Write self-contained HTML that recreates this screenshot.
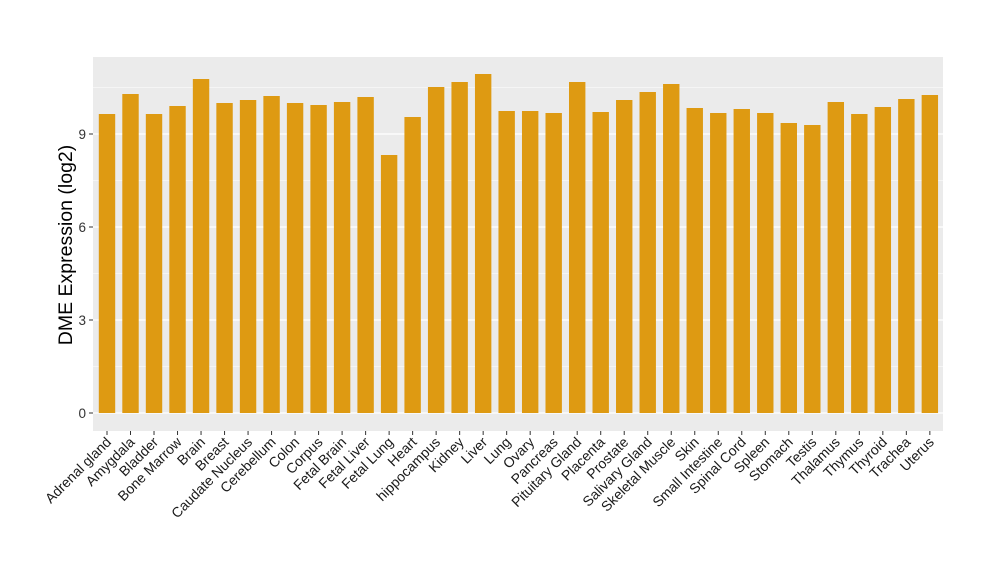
<!DOCTYPE html>
<html><head><meta charset="utf-8"><style>body{margin:0;background:#fff}svg{display:block}</style></head><body>
<svg width="1000" height="580" xmlns="http://www.w3.org/2000/svg" font-family="Liberation Sans, sans-serif">
<rect x="93" y="57" width="850" height="374" fill="#EBEBEB"/>
<g stroke="#fff" stroke-width="0.6">
<line x1="93" x2="943" y1="366.5" y2="366.5"/><line x1="93" x2="943" y1="273.5" y2="273.5"/><line x1="93" x2="943" y1="180.5" y2="180.5"/><line x1="93" x2="943" y1="87.5" y2="87.5"/>
</g>
<g stroke="#fff" stroke-width="1.2">
<line x1="93" x2="943" y1="413" y2="413"/><line x1="93" x2="943" y1="320" y2="320"/><line x1="93" x2="943" y1="227" y2="227"/><line x1="93" x2="943" y1="134" y2="134"/>
</g>
<g id="bars"></g>
<g font-size="13.5" fill="#333" text-anchor="end">
<text x="86" y="418">0</text><text x="86" y="325">3</text><text x="86" y="232">6</text><text x="86" y="139">9</text>
</g>
<g stroke="#333" stroke-width="1">
<line x1="89" x2="93" y1="413" y2="413"/><line x1="89" x2="93" y1="320" y2="320"/><line x1="89" x2="93" y1="227" y2="227"/><line x1="89" x2="93" y1="134" y2="134"/>
</g>
<text transform="translate(72,245) rotate(-90)" text-anchor="middle" font-size="19.5" fill="#000">DME Expression (log2)</text>
<g id="labels"></g>
<script>
var names=["Adrenal gland","Amygdala","Bladder","Bone Marrow","Brain","Breast","Caudate Nucleus","Cerebellum","Colon","Corpus","Fetal Brain","Fetal Liver","Fetal Lung","Heart","hippocampus","Kidney","Liver","Lung","Ovary","Pancreas","Pituitary Gland","Placenta","Prostate","Salivary Gland","Skeletal Muscle","Skin","Small Intestine","Spinal Cord","Spleen","Stomach","Testis","Thalamus","Thymus","Thyroid","Trachea","Uterus"];
var tops=[114,94,114,106,79,103,100,96,103,105,102,97,155,117,87,82,74,111,111,113,82,112,100,92,84,108,113,109,113,123,125,102,114,107,99,95];
var ns="http://www.w3.org/2000/svg",b=document.getElementById("bars"),l=document.getElementById("labels");
for(var i=0;i<36;i++){var cx=107+i*23.51;
var r=document.createElementNS(ns,"rect");r.setAttribute("x",cx-8.2);r.setAttribute("width",16.4);r.setAttribute("y",tops[i]);r.setAttribute("height",413-tops[i]);r.setAttribute("fill","#DE9A12");b.appendChild(r);
var t=document.createElementNS(ns,"line");t.setAttribute("x1",cx);t.setAttribute("x2",cx);t.setAttribute("y1",431);t.setAttribute("y2",435);t.setAttribute("stroke","#333");l.appendChild(t);
var tx=document.createElementNS(ns,"text");tx.setAttribute("transform","translate("+(cx+5)+",443) rotate(-45)");tx.setAttribute("text-anchor","end");tx.setAttribute("font-size","14");tx.setAttribute("fill","#1a1a1a");tx.textContent=names[i];l.appendChild(tx);}
</script>
</svg>
</body></html>
